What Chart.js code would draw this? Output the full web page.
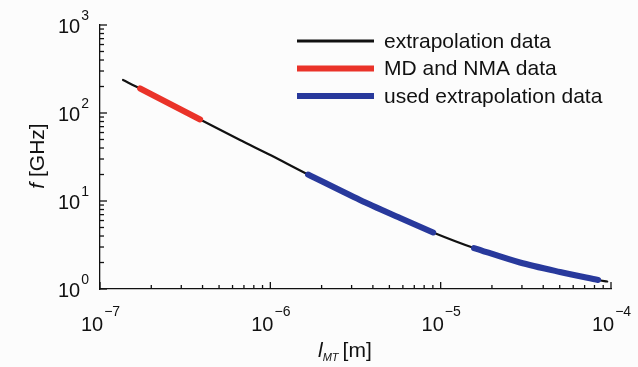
<!DOCTYPE html>
<html>
<head>
<meta charset="utf-8">
<script src="https://cdn.jsdelivr.net/npm/chart.js@4"></script>
<style>
  html, body { margin: 0; padding: 0; background: #fcfcfc; }
</style>
</head>
<body>
<canvas id="grafico" width="638" height="367"></canvas>
<script>
// valores (l_MT em metros, f em GHz)
let comprimentoExtrap = [1.365e-7, 1.72e-7, 2.58e-7, 3.87e-7, 6.64e-7, 1.0e-6, 1.665e-6, 3.36e-6, 5.78e-6, 9.03e-6, 1.57e-5, 2.92e-5, 5.02e-5, 8.4e-5, 9.5e-5];
let freqExtrap = [237, 190, 126.6, 84.4, 49.3, 33.3, 20.0, 10.27, 6.41, 4.39, 2.92, 2.0, 1.56, 1.266, 1.217];

let comprimentoMD = [1.72e-7, 2.58e-7, 3.87e-7];
let freqMD = [190, 126.6, 84.4];

let comprimentoUsado1 = [1.665e-6, 3.36e-6, 5.78e-6, 9.03e-6];
let freqUsado1 = [20.0, 10.27, 6.41, 4.39];

let comprimentoUsado2 = [1.57e-5, 2.92e-5, 5.02e-5, 8.4e-5];
let freqUsado2 = [2.92, 2.0, 1.56, 1.266];

let expoentesX = [-7, -6, -5, -4];
let expoentesY = [0, 1, 2, 3];

let legendaTextos = ["extrapolation data", "MD and NMA data", "used extrapolation data"];
let legendaCores = ["#111111", "#ea3329", "#28399c"];
let legendaLarguras = [3, 6, 6];

function juntarPontos(xs, ys) {
  return xs.map((x, i) => ({ x: x, y: ys[i] }));
}

const fonte = "'Liberation Sans', Arial, sans-serif";

const eixosPlugin = {
  id: "eixos",
  afterDraw(chart) {
    const c = chart.ctx;
    const sx = chart.scales.x;
    const sy = chart.scales.y;
    const area = chart.chartArea;
    c.save();
    c.strokeStyle = "#111";
    c.lineWidth = 1.3;

    // marcas para dentro, principais e secundarias
    expoentesX.forEach((e, i) => {
      for (let m = 1; m <= 9; m++) {
        if (i === expoentesX.length - 1 && m > 1) break;
        let px = sx.getPixelForValue(m * Math.pow(10, e));
        let tam = m === 1 ? 7 : 4;
        c.beginPath();
        c.moveTo(px, area.bottom);
        c.lineTo(px, area.bottom - tam);
        c.stroke();
      }
    });
    expoentesY.forEach((e, i) => {
      for (let m = 1; m <= 9; m++) {
        if (i === expoentesY.length - 1 && m > 1) break;
        let py = sy.getPixelForValue(m * Math.pow(10, e));
        let tam = m === 1 ? 7 : 4;
        c.beginPath();
        c.moveTo(area.left, py);
        c.lineTo(area.left + tam, py);
        c.stroke();
      }
    });

    // rotulos 10^n
    c.fillStyle = "#111";
    c.textBaseline = "alphabetic";
    expoentesX.forEach(e => {
      let px = sx.getPixelForValue(Math.pow(10, e));
      let txt = String(e).replace("-", "\u2212");
      c.font = "20px " + fonte;
      let w1 = c.measureText("10").width;
      c.font = "14px " + fonte;
      let w2 = c.measureText(txt).width;
      let x0 = px - (w1 + w2) / 2;
      c.font = "20px " + fonte;
      c.textAlign = "left";
      c.fillText("10", x0, 331);
      c.font = "14px " + fonte;
      c.fillText(txt, x0 + w1 + 1, 316);
    });
    expoentesY.forEach(e => {
      let py = sy.getPixelForValue(Math.pow(10, e));
      c.font = "14px " + fonte;
      let w2 = c.measureText(String(e)).width;
      c.textAlign = "right";
      c.fillText(String(e), 89, py - 5);
      c.font = "20px " + fonte;
      c.fillText("10", 89 - w2 - 1, py + 8);
    });

    // titulo do eixo x: l_MT [m]
    c.textAlign = "left";
    c.font = "italic 21px " + fonte;
    let xt = 318;
    c.fillText("l", xt, 357);
    xt += c.measureText("l").width;
    c.font = "italic 11px " + fonte;
    c.fillText("MT", xt, 361);
    xt += c.measureText("MT").width + 4;
    c.font = "21px " + fonte;
    c.fillText("[m]", xt, 357);

    // titulo do eixo y: f [GHz]
    c.save();
    c.translate(44, 156);
    c.rotate(-Math.PI / 2);
    c.font = "italic 21px " + fonte;
    let wf = c.measureText("f ").width;
    c.font = "21px " + fonte;
    let wg = c.measureText("[GHz]").width;
    let yt = -(wf + wg) / 2;
    c.font = "italic 21px " + fonte;
    c.fillText("f ", yt, 0);
    c.font = "21px " + fonte;
    c.fillText("[GHz]", yt + wf, 0);
    c.restore();

    // legenda
    c.font = "21px " + fonte;
    c.textBaseline = "middle";
    c.lineCap = "butt";
    legendaTextos.forEach((t, i) => {
      let y = 41 + i * 27.5;
      c.strokeStyle = legendaCores[i];
      c.lineWidth = legendaLarguras[i];
      c.beginPath();
      c.moveTo(297, y);
      c.lineTo(374, y);
      c.stroke();
      c.fillStyle = "#111";
      c.fillText(t, 384, y + 1);
    });
    c.restore();
  }
};

let ctx = document.getElementById("grafico").getContext("2d");

let meuGrafico = new Chart(ctx, {
  type: "line",
  data: {
    datasets: [
      {
        label: legendaTextos[0],
        data: juntarPontos(comprimentoExtrap, freqExtrap),
        borderColor: legendaCores[0],
        borderWidth: 2.2,
        order: 3
      },
      {
        label: legendaTextos[1],
        data: juntarPontos(comprimentoMD, freqMD),
        borderColor: legendaCores[1],
        borderWidth: 6,
        order: 1
      },
      {
        label: legendaTextos[2],
        data: juntarPontos(comprimentoUsado1, freqUsado1),
        borderColor: legendaCores[2],
        borderWidth: 6,
        order: 1
      },
      {
        label: legendaTextos[2],
        data: juntarPontos(comprimentoUsado2, freqUsado2),
        borderColor: legendaCores[2],
        borderWidth: 6,
        order: 1
      }
    ]
  },
  options: {
    responsive: false,
    animation: false,
    devicePixelRatio: 1,
    layout: { padding: { top: 25, right: 27, left: 0, bottom: 0 } },
    elements: {
      point: { radius: 0 },
      line: { tension: 0.3, borderCapStyle: "round" }
    },
    plugins: {
      legend: { display: false },
      tooltip: { enabled: false }
    },
    scales: {
      x: {
        type: "logarithmic",
        min: 1e-7,
        max: 1e-4,
        ticks: { display: false },
        grid: { display: false, drawTicks: false },
        border: { display: true, color: "#111", width: 1.3 },
        afterFit: s => { s.height = 78; }
      },
      y: {
        type: "logarithmic",
        min: 1,
        max: 1000,
        ticks: { display: false },
        grid: { display: false, drawTicks: false },
        border: { display: true, color: "#111", width: 1.3 },
        afterFit: s => { s.width = 100; }
      }
    }
  },
  plugins: [eixosPlugin]
});
</script>
</body>
</html>
